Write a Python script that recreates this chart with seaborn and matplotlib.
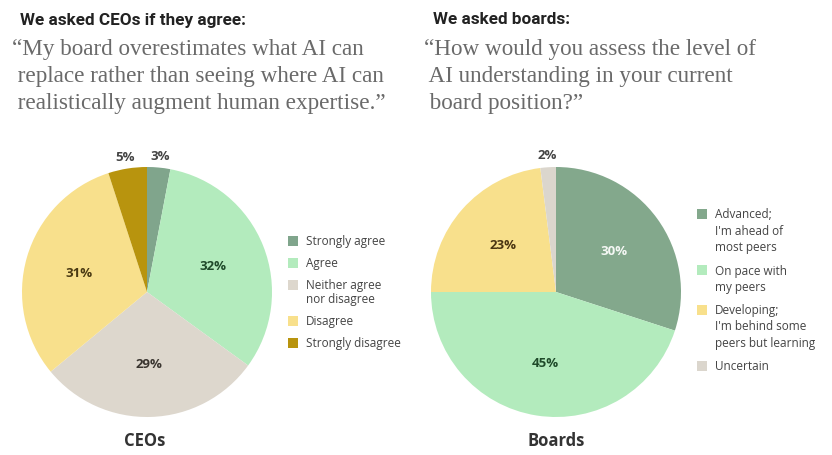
import numpy as np
import matplotlib.pyplot as plt
import seaborn as sns
from matplotlib.patches import Rectangle

# data
ceo_labels = ['Strongly agree', 'Agree', 'Neither agree\nnor disagree', 'Disagree', 'Strongly disagree']
ceo_values = [3, 32, 29, 31, 5]
ceo_colors = ['#80a58c', '#b3ebbd', '#ddd7cd', '#f8e08c', '#b8940e']
ceo_text_colors = ['#444444', '#1f4a2a', '#3a3530', '#4a3a12', '#444444']

board_labels = ['Advanced;\nI\'m ahead of\nmost peers', 'On pace with\nmy peers',
                'Developing;\nI\'m behind some\npeers but learning', 'Uncertain']
board_values = [30, 45, 23, 2]
board_colors = ['#83a88c', '#b3ebbd', '#f8e08c', '#dbd6cd']
board_text_colors = ['#f4f7f4', '#1f4a2a', '#4a3512', '#444444']

sns.set_theme(style='white')
plt.rcParams['font.family'] = ['Open Sans', 'DejaVu Sans']

W, H = 832, 456
fig = plt.figure(figsize=(W / 100, H / 100), dpi=100)
fig.patch.set_facecolor('white')


def fx(x):
    return x / W


def fy(y):
    return 1 - y / H


def draw_pie(cx, cy, r, values, colors, text_colors):
    ax = fig.add_axes([fx(cx - r), fy(cy + r), 2 * r / W, 2 * r / H])
    wedges, _ = ax.pie(values, colors=colors, startangle=90, counterclock=False,
                       radius=1, wedgeprops=dict(linewidth=0))
    ax.set_xlim(-1, 1)
    ax.set_ylim(-1, 1)
    ax.set_aspect('equal')
    ax.axis('off')
    for w, v, tc in zip(wedges, values, text_colors):
        ang = np.deg2rad((w.theta1 + w.theta2) / 2)
        rr = 1.1 if v < 6 else 0.57
        ax.text(np.cos(ang) * rr, np.sin(ang) * rr, f'{v}%', ha='center', va='center',
                fontsize=9.5, fontweight='bold', color=tc, clip_on=False)
    return ax, wedges


ax1, w1 = draw_pie(147, 293, 125, ceo_values, ceo_colors, ceo_text_colors)
ax2, w2 = draw_pie(556, 293, 125, board_values, board_colors, board_text_colors)


# legend drawn by hand so the square sits at the first line of each label
def legend(x, y, wedges, labels, line_h, gap):
    for w, lab in zip(wedges, labels):
        fig.patches.append(Rectangle((fx(x), fy(y + 5)), 10 / W, 10 / H, transform=fig.transFigure,
                                     facecolor=w.get_facecolor(), edgecolor='none'))
        lines = lab.split('\n')
        for j, ln in enumerate(lines):
            fig.text(fx(x + 18), fy(y + j * line_h), ln, fontsize=8.5, color='#444444', va='center')
        y += (len(lines) - 1) * line_h + gap


legend(288, 242, w1, ceo_labels, 14, 22)
legend(697, 215, w2, board_labels, 16.5, 23)

# headers
fig.text(fx(20), fy(20), 'We asked CEOs if they agree:', fontsize=12.3, fontweight='bold',
         color='#222222', va='center', family=['Roboto', 'DejaVu Sans'])
fig.text(fx(433), fy(20), 'We asked boards:', fontsize=12.3, fontweight='bold',
         color='#222222', va='center', family=['Roboto', 'DejaVu Sans'])

quote1 = ['\u201cMy board overestimates what AI can',
          ' replace rather than seeing where AI can',
          ' realistically augment human expertise.\u201d']
quote2 = ['\u201cHow would you assess the level of',
          ' AI understanding in your current',
          ' board position?\u201d']
for i, line in enumerate(quote1):
    fig.text(fx(12), fy(50 + i * 26.5), line, fontsize=16.7, color='#6a6a6a', va='center',
             family=['Liberation Serif', 'DejaVu Serif'])
for i, line in enumerate(quote2):
    fig.text(fx(424), fy(50 + i * 26.5), line, fontsize=16.7, color='#6a6a6a', va='center',
             family=['Liberation Serif', 'DejaVu Serif'])

fig.text(fx(145), fy(441), 'CEOs', fontsize=12, fontweight='bold', color='#333333', ha='center', va='center')
fig.text(fx(556), fy(441), 'Boards', fontsize=12, fontweight='bold', color='#333333', ha='center', va='center')

plt.savefig('out.png', dpi=100)
